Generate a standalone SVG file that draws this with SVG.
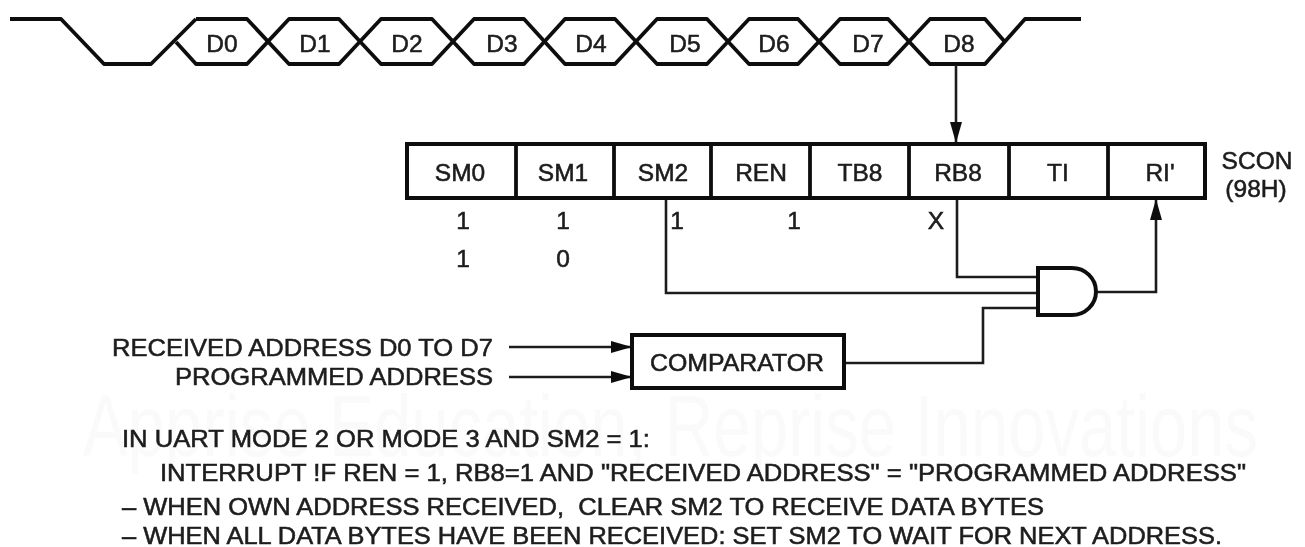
<svg xmlns="http://www.w3.org/2000/svg" width="1305" height="547" viewBox="0 0 1305 547">
<defs>
<style>
text{font-family:"Liberation Sans",Arial,sans-serif;fill:#1c1c1c;stroke:#1c1c1c;stroke-width:.55}
.c{text-anchor:middle;font-size:24.5px}
.n{font-size:24.5px}
.l{font-size:24px}
.w{fill:none;stroke:#111;stroke-width:3.8;stroke-linejoin:round}
.b{fill:#fff;stroke:#111;stroke-width:4}
.d{fill:none;stroke:#111;stroke-width:3.8}
.k{fill:none;stroke:#1a1a1a;stroke-width:2.6}
text.wm{font-size:88px;fill:#fafafb;stroke:none}
</style>
<marker id="a" markerUnits="userSpaceOnUse" markerWidth="22" markerHeight="14" refX="21" refY="7" orient="auto">
<path d="M0 1L21 7L0 13Z" fill="#111"/>
</marker>
<filter id="s" x="-2%" y="-2%" width="104%" height="104%"><feGaussianBlur stdDeviation="0.6"/></filter>
</defs>
<rect width="1305" height="547" fill="#fff"/>
<text class="wm" x="83" y="456" textLength="1175" lengthAdjust="spacingAndGlyphs">Apprise Education, Reprise Innovations</text>
<g filter="url(#s)">
<g id="waveform">
<path class="w" d="M10 19H61L104 64H151L196 19"/>
<path class="w" d="M176 42L196 64H247L289 19H339L381 64H432L474 19H524L565 64H615L657 19H707L749 64H798L840 19H888L930 64H985L1025 19H1081"/>
<path class="w" d="M196 19H247L289 64H339L381 19H432L474 64H524L565 19H615L657 64H707L749 19H798L840 64H888L930 19H985L1005 42"/>
</g>
<g id="wave-labels">
<text class="c" x="222" y="52">D0</text><text class="c" x="315" y="52">D1</text><text class="c" x="407" y="52">D2</text><text class="c" x="502" y="52">D3</text><text class="c" x="591" y="52">D4</text><text class="c" x="685" y="52">D5</text><text class="c" x="774" y="52">D6</text><text class="c" x="868" y="52">D7</text><text class="c" x="959" y="52">D8</text>
</g>
<g id="connectors">
<path class="k" d="M956 65V143" marker-end="url(#a)"/>
<path class="k" d="M666 198V293H1038"/>
<path class="k" d="M957 198V277H1038"/>
<path class="k" d="M844 363H983V308H1038"/>
<path class="k" d="M1096 292H1156V199" marker-end="url(#a)"/>
<path class="k" d="M509 347H632" marker-end="url(#a)"/>
<path class="k" d="M509 377H632" marker-end="url(#a)"/>
</g>
<g id="scon">
<rect class="b" x="407" y="144" width="798" height="54"/>
<path class="d" d="M516 144V198M614 144V198M711 144V198M810 144V198M909 144V198M1009 144V198M1108 144V198"/>
<text class="c" x="460" y="181">SM0</text><text class="c" x="563" y="181">SM1</text><text class="c" x="663" y="181">SM2</text><text class="c" x="761" y="181">REN</text><text class="c" x="860" y="181">TB8</text><text class="c" x="958" y="181">RB8</text><text class="c" x="1058" y="181">TI</text><text class="c" x="1160" y="181">RI'</text>
</g>
<g id="scon-label">
<text class="c" x="1257" y="169">SCON</text><text class="c" x="1256" y="197">(98H)</text>
</g>
<g id="values">
<text class="c" x="463" y="229">1</text><text class="c" x="563" y="229">1</text><text class="c" x="677" y="229">1</text><text class="c" x="794" y="229">1</text><text class="c" x="936" y="229">X</text><text class="c" x="463" y="267">1</text><text class="c" x="563" y="267">0</text>
</g>
<g id="and-gate">
<path class="b" d="M1038 268H1072A24 23.500 0 0 1 1072 315H1038Z"/>
</g>
<g id="comparator">
<rect class="b" x="632" y="335" width="212" height="53"/>
<text class="c" x="737" y="371" textLength="174" lengthAdjust="spacingAndGlyphs">COMPARATOR</text>
</g>
<g id="inputs">
<text class="n" x="112" y="356" textLength="381" lengthAdjust="spacingAndGlyphs">RECEIVED ADDRESS D0 TO D7</text>
<text class="n" x="175" y="385" textLength="318" lengthAdjust="spacingAndGlyphs">PROGRAMMED ADDRESS</text>
</g>
<g id="notes">
<text class="l" x="122" y="447" textLength="528" lengthAdjust="spacingAndGlyphs">IN UART MODE 2 OR MODE 3 AND SM2 = 1:</text>
<text class="l" x="160" y="481" textLength="1086" lengthAdjust="spacingAndGlyphs">INTERRUPT !F REN = 1, RB8=1 AND "RECEIVED ADDRESS" = "PROGRAMMED ADDRESS"</text>
<text class="l" x="122" y="515" textLength="922" lengthAdjust="spacingAndGlyphs" xml:space="preserve">– WHEN OWN ADDRESS RECEIVED,  CLEAR SM2 TO RECEIVE DATA BYTES</text>
<text class="l" x="122" y="544" textLength="1100" lengthAdjust="spacingAndGlyphs">– WHEN ALL DATA BYTES HAVE BEEN RECEIVED: SET SM2 TO WAIT FOR NEXT ADDRESS.</text>
</g>
</g>
</svg>
